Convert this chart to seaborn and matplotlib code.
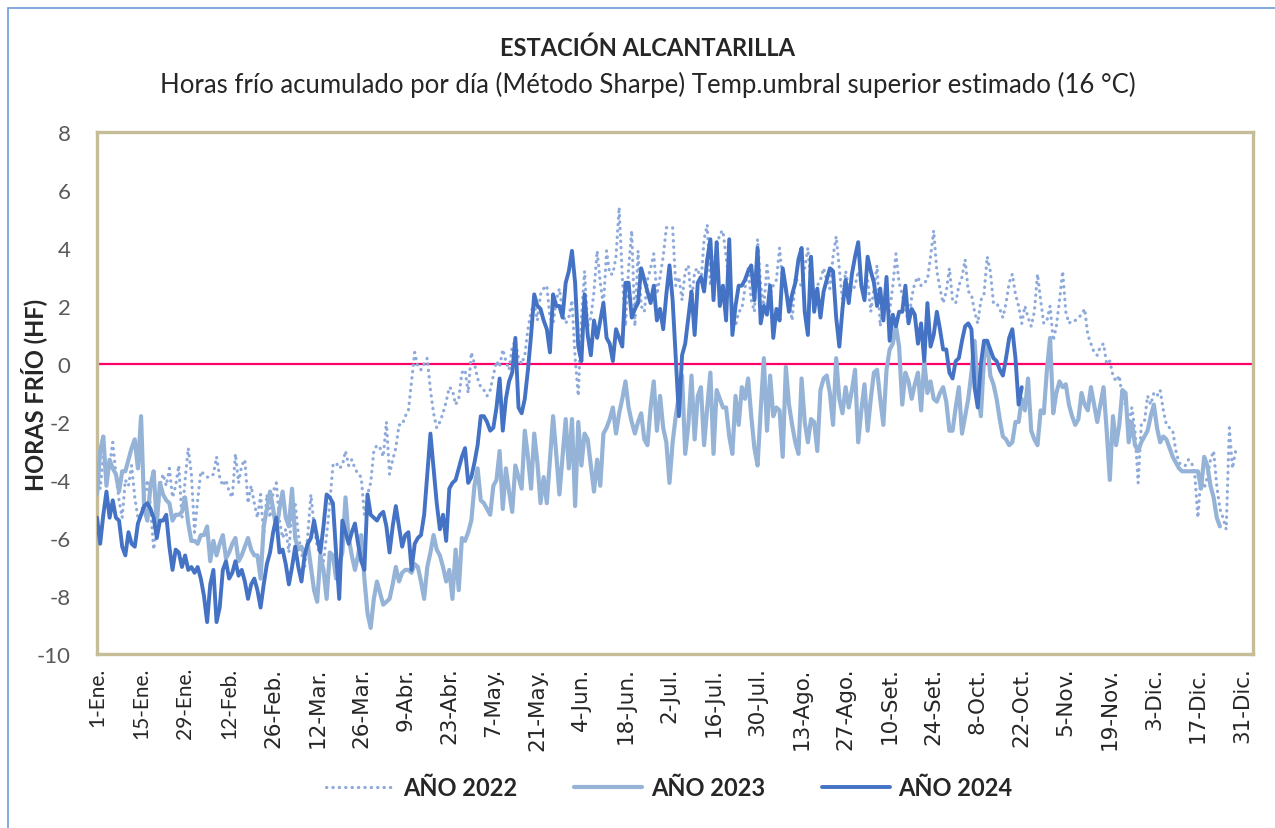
import numpy as np
import pandas as pd
import seaborn as sns
import matplotlib.pyplot as plt
from matplotlib.lines import Line2D
from matplotlib.patches import Rectangle
from matplotlib.font_manager import FontProperties

# Horas frío acumuladas por día (HF), un valor por día desde el 1-Ene
hf_2022 = [
    -3.4, -4.3, -3.2, -3.8, -3.5, -2.7, -3.8, -4.7, -5.3, -4.0,
    -4.2, -3.5, -4.6, -5.3, -5.2, -4.6, -4.0, -4.9, -6.4, -5.7,
    -4.2, -3.8, -4.2, -3.6, -4.6, -4.2, -3.5, -5.3, -4.0, -2.9,
    -3.8, -5.8, -4.7, -3.7, -3.8, -3.9, -3.9, -3.8, -3.2, -3.9,
    -4.2, -4.0, -4.4, -4.6, -3.1, -4.1, -3.5, -3.3, -4.8, -4.2,
    -4.8, -5.3, -4.5, -5.9, -4.5, -5.3, -4.4, -4.1, -5.4, -6.0,
    -5.7, -6.5, -4.9, -4.8, -5.9, -6.5, -7.0, -5.9, -4.5, -5.6,
    -6.3, -6.6, -6.8, -5.9, -4.8, -3.5, -3.4, -3.6, -3.5, -3.0,
    -3.5, -3.3, -3.6, -3.8, -3.9, -5.2, -4.5, -4.1, -3.0, -2.8,
    -2.9, -3.2, -2.0, -3.8, -3.3, -2.9, -2.1, -2.1, -1.8, -1.6,
    -0.6, 0.4, -0.1, -0.2, 0.0, 0.2, -0.9, -1.7, -2.2, -2.0,
    -1.7, -1.3, -0.8, -0.9, -1.4, -1.2, -0.3, -0.2, -1.0, 0.4,
    0.0, -0.5, -0.8, -0.9, -1.1, -0.9, -0.4, 0.1, -0.1, 0.5,
    0.1, -0.2, 0.6, 0.8, 0.2, 0.0, 0.3, 1.2, 1.8, 2.1,
    1.5, 2.4, 2.6, 2.7, 1.6, 1.4, 2.2, 2.6, 1.8, 1.4,
    1.6, 2.2, 0.2, -1.1, 1.6, 3.2, 1.3, 1.6, 2.5, 3.9,
    2.8, 2.0, 3.9, 3.1, 3.1, 3.7, 5.4, 3.0, 1.3, 3.3,
    4.6, 1.3, 3.9, 2.0, 1.8, 2.9, 3.3, 3.8, 2.4, 3.0,
    3.7, 4.7, 4.7, 4.7, 2.7, 3.0, 2.2, 3.2, 3.4, 2.1,
    3.2, 3.3, 2.8, 4.3, 4.8, 2.7, 3.4, 4.0, 4.5, 4.6,
    3.7, 2.8, 2.0, 1.3, 1.8, 1.9, 2.6, 3.3, 2.2, 1.8,
    4.3, 2.7, 2.0, 3.4, 2.4, 2.7, 2.9, 4.0, 2.8, 2.5,
    2.2, 1.5, 3.0, 2.8, 2.7, 3.3, 4.0, 2.7, 2.2, 2.7,
    2.9, 3.3, 2.9, 2.6, 3.7, 4.4, 3.3, 2.2, 3.2, 2.6,
    2.5, 2.7, 3.2, 2.7, 2.5, 2.9, 1.8, 2.6, 3.4, 1.3,
    2.2, 2.0, 1.8, 2.7, 3.8, 2.8, 2.4, 1.9, 1.4, 2.3,
    2.8, 3.0, 2.7, 2.8, 2.9, 3.7, 4.6, 3.2, 2.6, 2.1,
    2.5, 3.3, 2.2, 2.1, 2.7, 3.0, 3.6, 2.5, 2.4, 1.8,
    1.4, 2.2, 2.4, 3.7, 3.2, 2.1, 2.1, 1.9, 1.6, 2.1,
    2.8, 3.1, 2.4, 2.0, 1.4, 2.0, 1.6, 1.3, 1.8, 3.1,
    2.2, 1.4, 1.5, 2.0, 0.8, 1.3, 2.2, 3.2, 1.8, 1.4,
    1.5, 1.5, 1.6, 1.7, 1.9, 1.0, 0.7, 0.4, 0.3, 0.6,
    0.7, 0.0, 0.1, -0.4, -0.6, -0.4, -1.2, -1.4, -2.1, -1.5,
    -2.3, -4.1, -2.1, -2.0, -1.1, -1.4, -1.0, -1.1, -0.9, -1.6,
    -2.1, -2.2, -2.3, -3.0, -3.4, -3.5, -3.5, -3.3, -3.4, -3.8,
    -5.3, -3.8, -4.3, -3.9, -3.3, -3.0, -4.2, -5.0, -5.3, -5.7,
    -2.2, -3.6, -3.0,
]

hf_2023 = [
    -4.5, -3.0, -2.5, -4.2, -3.3, -3.6, -3.8, -4.4, -3.7, -3.7,
    -3.3, -2.9, -2.6, -3.6, -1.8, -5.0, -5.4, -4.2, -3.7, -5.5,
    -4.1, -4.5, -4.7, -4.8, -5.4, -5.2, -5.2, -5.1, -4.6, -5.5,
    -6.1, -6.1, -6.2, -5.9, -5.9, -5.6, -6.8, -6.1, -6.6, -6.2,
    -5.9, -6.7, -6.5, -6.2, -6.0, -6.8, -6.6, -6.3, -6.0, -6.4,
    -6.6, -6.6, -7.4, -5.6, -5.0, -4.4, -5.0, -5.7, -5.0, -4.4,
    -5.3, -5.6, -4.3, -6.0, -6.4, -6.3, -6.6, -6.2, -7.0, -7.8,
    -8.2, -6.6, -7.1, -8.1, -6.5, -6.6, -7.4, -6.9, -6.5, -4.6,
    -6.0, -6.6, -7.1, -6.6, -5.9, -7.4, -8.6, -9.1, -8.1, -7.5,
    -7.9, -8.3, -8.2, -8.1, -7.6, -7.0, -7.5, -7.2, -7.1, -7.1,
    -7.2, -6.9, -7.0, -7.5, -8.1, -7.0, -6.5, -5.9, -6.4, -6.6,
    -7.0, -7.5, -7.1, -8.1, -6.4, -7.8, -6.0, -6.1, -5.8, -5.4,
    -4.2, -3.6, -4.7, -4.8, -5.0, -5.2, -4.2, -4.0, -3.0, -5.0,
    -3.6, -4.4, -5.1, -3.5, -3.9, -4.3, -2.3, -3.2, -4.3, -2.4,
    -3.4, -4.8, -3.9, -4.8, -3.3, -1.8, -3.1, -4.5, -3.2, -1.9,
    -3.6, -1.9, -4.9, -2.0, -3.5, -2.4, -2.6, -3.5, -4.4, -3.3,
    -4.2, -2.4, -2.2, -1.9, -1.5, -2.4, -1.7, -1.2, -0.6, -1.5,
    -2.0, -2.4, -2.0, -1.7, -2.6, -2.8, -1.5, -0.6, -2.3, -1.1,
    -2.2, -2.7, -4.1, -2.7, -1.8, -1.1, -0.4, -3.1, -2.1, -0.4,
    -2.6, -1.1, -0.8, -2.8, -1.5, -0.3, -3.1, -0.9, -1.2, -1.5,
    -1.5, -2.5, -3.1, -1.1, -2.1, -0.8, -1.2, -0.5, -1.8, -2.9,
    -3.5, -1.6, 0.2, -2.3, -0.4, -1.8, -1.5, -1.6, -3.2, -0.1,
    -1.4, -2.1, -2.7, -3.1, -0.5, -2.0, -2.7, -1.9, -2.0, -3.0,
    -0.9, -0.5, -0.4, -1.0, -2.1, 0.2, -1.2, -1.7, -0.8, -1.5,
    -0.9, -0.2, -2.7, -1.6, -0.7, -2.3, -1.2, -0.3, -0.2, -1.2,
    -2.1, -0.2, 0.5, 0.7, 1.3, 0.6, -1.4, -0.3, -0.6, -1.2,
    -0.7, -0.3, -1.6, 0.1, -1.0, -0.6, -1.2, -1.3, -1.0, -0.8,
    -1.3, -2.3, -2.3, -1.5, -0.8, -2.4, -1.8, -1.2, -0.3, 0.8,
    -0.9, -1.8, 0.2, 0.8, -0.4, -0.7, -1.2, -1.9, -2.5, -2.6,
    -2.8, -2.7, -2.0, -2.0, -1.2, -1.6, -0.5, -2.3, -2.6, -2.8,
    -1.6, -1.7, -0.2, 0.9, -1.7, -1.0, -0.6, -0.8, -0.7, -1.4,
    -1.8, -2.1, -1.9, -1.0, -1.4, -1.6, -0.8, -1.4, -2.0, -1.4,
    -0.8, -2.3, -4.0, -1.8, -2.8, -2.1, -0.9, -1.0, -2.7, -2.0,
    -2.8, -3.0, -2.7, -2.5, -2.3, -1.8, -1.4, -2.2, -2.7, -2.5,
    -2.6, -2.9, -3.2, -3.4, -3.6, -3.7, -3.7, -3.7, -3.7, -3.7,
    -3.7, -4.3, -3.2, -3.5, -4.2, -4.6, -5.3, -5.6,
]

hf_2024 = [
    -5.3, -6.2, -5.2, -4.4, -5.3, -4.7, -5.3, -5.4, -6.3, -6.6,
    -5.8, -6.2, -6.3, -5.5, -5.2, -4.9, -4.8, -5.0, -5.3, -6.0,
    -5.4, -5.4, -5.2, -6.3, -7.1, -6.4, -6.5, -7.0, -6.6, -7.1,
    -7.0, -7.2, -7.0, -7.4, -8.0, -8.9, -7.6, -7.1, -8.9, -8.4,
    -7.1, -6.8, -7.4, -7.2, -6.8, -7.3, -7.1, -7.5, -8.1, -7.6,
    -7.4, -7.8, -8.4, -7.6, -6.9, -6.5, -5.8, -5.3, -6.5, -6.4,
    -6.9, -7.6, -7.0, -6.3, -7.0, -7.5, -6.6, -6.2, -6.0, -5.4,
    -6.0, -6.5, -5.6, -4.5, -4.6, -4.8, -6.5, -8.1, -5.4, -5.8,
    -6.2, -5.8, -5.5, -6.2, -6.8, -7.1, -4.5, -5.2, -5.3, -5.4,
    -5.2, -5.1, -5.6, -6.5, -5.6, -4.9, -5.6, -6.3, -5.9, -5.8,
    -7.1, -6.2, -6.0, -5.9, -5.2, -3.8, -2.4, -3.6, -4.8, -5.7,
    -5.2, -6.1, -4.3, -4.1, -4.0, -3.6, -3.2, -2.9, -4.1, -3.9,
    -3.4, -2.8, -1.8, -1.8, -2.0, -2.3, -2.2, -1.5, -0.5, -2.3,
    -1.2, -0.6, -0.3, 0.9, -1.5, -1.7, -1.2, -0.2, 1.0, 2.4,
    2.0, 1.9, 1.5, 1.2, 0.4, 2.4, 2.0, 2.0, 1.6, 2.8,
    3.2, 3.9, 2.8, 0.6, 0.1, 2.4, 1.0, 0.3, 1.5, 0.9,
    1.5, 2.1, 0.9, 0.7, 0.1, 1.2, 0.9, 0.6, 2.8, 2.8,
    1.6, 1.9, 2.1, 3.3, 2.9, 2.5, 2.1, 2.7, 1.5, 1.9,
    1.2, 2.4, 3.4, 2.2, 0.2, -1.8, 0.3, 0.7, 1.6, 2.5,
    1.0, 2.8, 3.0, 2.5, 3.6, 4.3, 2.2, 4.2, 2.0, 2.7,
    1.5, 4.3, 1.0, 2.0, 2.7, 2.7, 2.9, 3.2, 3.4, 2.2,
    4.0, 1.4, 2.0, 1.7, 2.7, 0.9, 1.9, 1.5, 3.3, 2.6,
    1.8, 2.4, 2.8, 3.6, 4.0, 1.8, 1.0, 3.7, 1.8, 2.6,
    1.6, 2.5, 2.9, 3.3, 3.2, 1.6, 0.6, 1.9, 2.9, 2.1,
    3.1, 3.7, 4.2, 2.7, 2.2, 3.7, 3.2, 2.8, 2.0, 2.6,
    1.5, 3.0, 0.8, 1.7, 1.3, 1.8, 1.8, 2.7, 1.4, 1.9,
    1.7, 0.7, 1.4, 0.1, 2.1, 0.6, 1.0, 1.8, 1.2, 0.5,
    0.5, -0.3, -0.5, 0.1, 0.2, 0.8, 1.3, 1.4, 1.2, -0.8,
    -1.5, 0.0, 0.8, 0.8, 0.5, 0.2, 0.1, -0.2, -0.4, 0.2,
    0.9, 1.2, 0.2, -1.4, -0.8,
]

tick_labels = ['1-Ene.', '15-Ene.', '29-Ene.', '12-Feb.', '26-Feb.', '12-Mar.', '26-Mar.',
               '9-Abr.', '23-Abr.', '7-May.', '21-May.', '4-Jun.', '18-Jun.', '2-Jul.',
               '16-Jul.', '30-Jul.', '13-Ago.', '27-Ago.', '10-Set.', '24-Set.', '8-Oct.',
               '22-Oct.', '5-Nov.', '19-Nov.', '3-Dic.', '17-Dic.', '31-Dic.']

series = [
    ('AÑO 2022', hf_2022, '#8EAADB', 2.3, (0, (0.1, 1.9))),
    ('AÑO 2023', hf_2023, '#95B3D7', 3.0, '-'),
    ('AÑO 2024', hf_2024, '#4472C4', 2.8, '-'),
]

sns.set_style('white')
plt.rcParams['font.family'] = ['Lato', 'DejaVu Sans']
plt.rcParams['axes.unicode_minus'] = False

fig = plt.figure(figsize=(12.75, 8.29), dpi=100)
ax = fig.add_axes([0.0761, 0.2099, 0.9066, 0.6297])

ax.axhline(0, color='#FF0066', linewidth=1.6, zorder=1)

handles = []
for name, values, color, lw, ls in series:
    df = pd.DataFrame({'dia': np.arange(len(values)), 'hf': values})
    sns.lineplot(data=df, x='dia', y='hf', ax=ax, color=color, linewidth=lw,
                 linestyle=ls, dash_capstyle='round', solid_capstyle='round',
                 errorbar=None, zorder=3)
    handles.append(Line2D([], [], color=color, linewidth=lw, linestyle=ls,
                          dash_capstyle='round', label=name))

ax.set_xlim(0, 367.5)
ax.set_ylim(-10, 8)
ax.set_xlabel('')
ax.set_ylabel('')
ax.set_yticks(np.arange(-10, 9, 2))
ax.tick_params(length=0)
ax.tick_params(axis='y', labelsize=16, labelcolor='#595959', pad=19)
ax.tick_params(axis='x', pad=9)
ax.set_xticks(np.arange(0, 14 * len(tick_labels), 14))
ax.set_xticklabels(tick_labels, rotation=90)

for sp in ax.spines.values():
    sp.set_visible(True)
    sp.set_color('#C4BD97')
    sp.set_linewidth(2.4)

fig.text(0.508, 0.942, 'ESTACIÓN ALCANTARILLA', ha='center', va='center',
         fontsize=17, fontweight='bold')
fig.text(0.508, 0.898,
         'Horas frío acumulado por día (Método Sharpe) Temp.umbral superior estimado (16 °C)',
         ha='center', va='center', fontsize=18.5)
fig.text(0.026, 0.5235, 'HORAS FRÍO (HF)', rotation=90, ha='center', va='center',
         fontsize=17, fontweight='bold')

fig.legend(handles=handles, loc='center', bbox_to_anchor=(0.525, 0.049), ncol=3,
           frameon=False, prop={'weight': 'bold', 'size': 17}, handlelength=2.9,
           handletextpad=0.35, columnspacing=2.4)

fig.add_artist(Rectangle((8 / 1275, -0.1), 1.2, 1.1 - 9 / 829, transform=fig.transFigure,
                         fill=False, edgecolor='#6E9BD8', linewidth=1.2))

# the first four date labels use a narrower face than the rest, as in the original
fig.canvas.draw()
for i, tick in enumerate(ax.xaxis.get_major_ticks()):
    if i < 4:
        tick.label1.set_fontproperties(FontProperties(family='Lato', size=15))
    else:
        tick.label1.set_fontproperties(FontProperties(family='DejaVu Sans', size=15.5))

fig.savefig('out.png', dpi=100)
